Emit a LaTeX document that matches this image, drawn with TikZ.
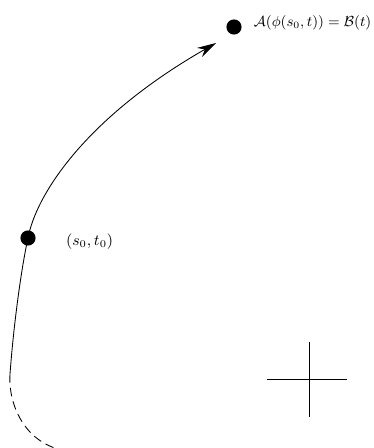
\documentclass[tikz,border=0pt]{standalone}
\usepackage{amsmath,amssymb}
\usetikzlibrary{arrows.meta}
\begin{document}
\begin{tikzpicture}[x=0.58pt, y=-0.58pt, every node/.style={font=\small}, >={Stealth[length=11pt, width=6pt]}, dot/.style={circle, fill, inner sep=0pt, minimum size=8.8pt}, curve/.style={line width=0.5pt}]
	\useasboundingbox (0,0) rectangle (374,448);
	\node[dot] (start) at (28,238) {};
	\node[dot] (target) at (234,27) {};
	\node[anchor=west] (startlabel) at (60,242) {$(s_0,t_0)$};
	\node[anchor=west, inner sep=1pt, scale=0.94] (targetlabel) at (252,23) {$\mathcal{A}(\phi(s_0,t)) = \mathcal{B}(t)$};
	\coordinate (low) at (10,374);
	\coordinate (tip) at (216,43);
	\coordinate (tail) at (62,450);
	\draw[curve, ->] (low) .. controls (14,320) and (22,265) .. (start.center) .. controls (36,195) and (85,118) .. (tip);
	\draw[curve, dash pattern=on 5pt off 3pt] (low) .. controls (8,405) and (25,442) .. (tail);
	\draw[curve] (267,379) -- (347,379);
	\draw[curve] (309,342) -- (309,417);
\end{tikzpicture}
\end{document}
